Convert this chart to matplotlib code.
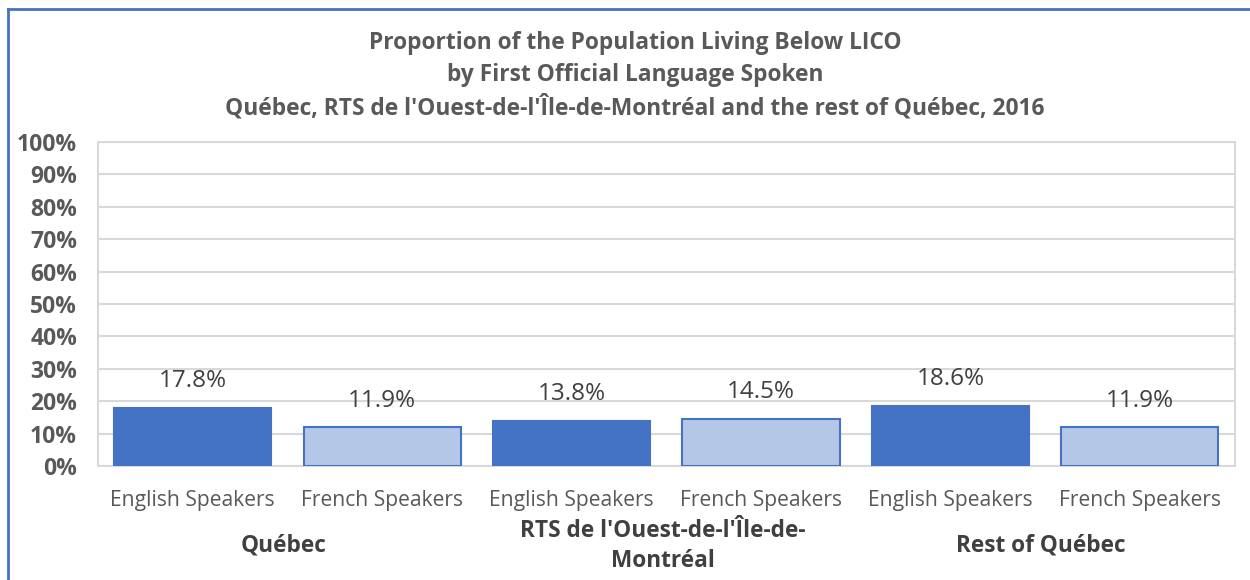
import matplotlib.pyplot as plt
from matplotlib.lines import Line2D

plt.rcParams['font.family'] = ['Open Sans', 'DejaVu Sans']

groups = ["Québec", "RTS de l'Ouest-de-l'Île-de-\nMontréal", "Rest of Québec"]
speakers = ["English Speakers", "French Speakers"]
values = [17.8, 11.9, 13.8, 14.5, 18.6, 11.9]
labels = ["17.8%", "11.9%", "13.8%", "14.5%", "18.6%", "11.9%"]
yticks = [0, 10, 20, 30, 40, 50, 60, 70, 80, 90, 100]

dark = '#4472C4'
light = '#B4C7E7'

fig = plt.figure(figsize=(12.5, 5.8), dpi=100)
ax = fig.add_axes([0.0784, 0.1966, 0.9092, 0.5586])

x = list(range(len(values)))
colors = [dark if i % 2 == 0 else light for i in x]
ax.bar(x, values, width=0.83, color=colors, edgecolor=dark, linewidth=1.5, zorder=3)

for xi, v, lab in zip(x, values, labels):
    ax.text(xi, v + 8.3, lab, ha='center', va='center', fontsize=17.5, color='#404040')

ax.set_xlim(-0.5, len(values) - 0.5)
ax.set_ylim(0, 100)
ax.set_yticks(yticks)
ax.set_yticklabels([f"{t}%" for t in yticks], fontsize=16.5, fontweight='bold', color='#595959')
ax.grid(axis='y', color='#D9D9D9', linewidth=1.5, zorder=0)
for s in ax.spines.values():
    s.set_color('#D9D9D9')
    s.set_linewidth(1.5)
ax.tick_params(axis='y', length=0, pad=15)
ax.tick_params(axis='x', length=0, pad=17)
ax.set_xticks(x)
ax.set_xticklabels([speakers[i % 2] for i in x], fontsize=15.2, color='#595959')

# group labels under each pair of bars
for gi, g in enumerate(groups):
    ax.text(2 * gi + 0.48, -24.6, g, ha='center', va='center', fontsize=16.3, fontweight='bold',
            color='#404040', linespacing=1.35, clip_on=False)

fig.text(0.508, 0.869, "Proportion of the Population Living Below LICO\nby First Official Language Spoken\n"
         "Québec, RTS de l'Ouest-de-l'Île-de-Montréal and the rest of Québec, 2016",
         ha='center', va='center', fontsize=16.4, fontweight='bold', color='#595959', linespacing=1.42)

# chart frame
fig.add_artist(Line2D([8 / 1250, 8 / 1250], [0, 1 - 9 / 580], color=dark, linewidth=2))
fig.add_artist(Line2D([8 / 1250, 1], [1 - 9 / 580, 1 - 9 / 580], color=dark, linewidth=2))

fig.savefig('out.png', dpi=100)
